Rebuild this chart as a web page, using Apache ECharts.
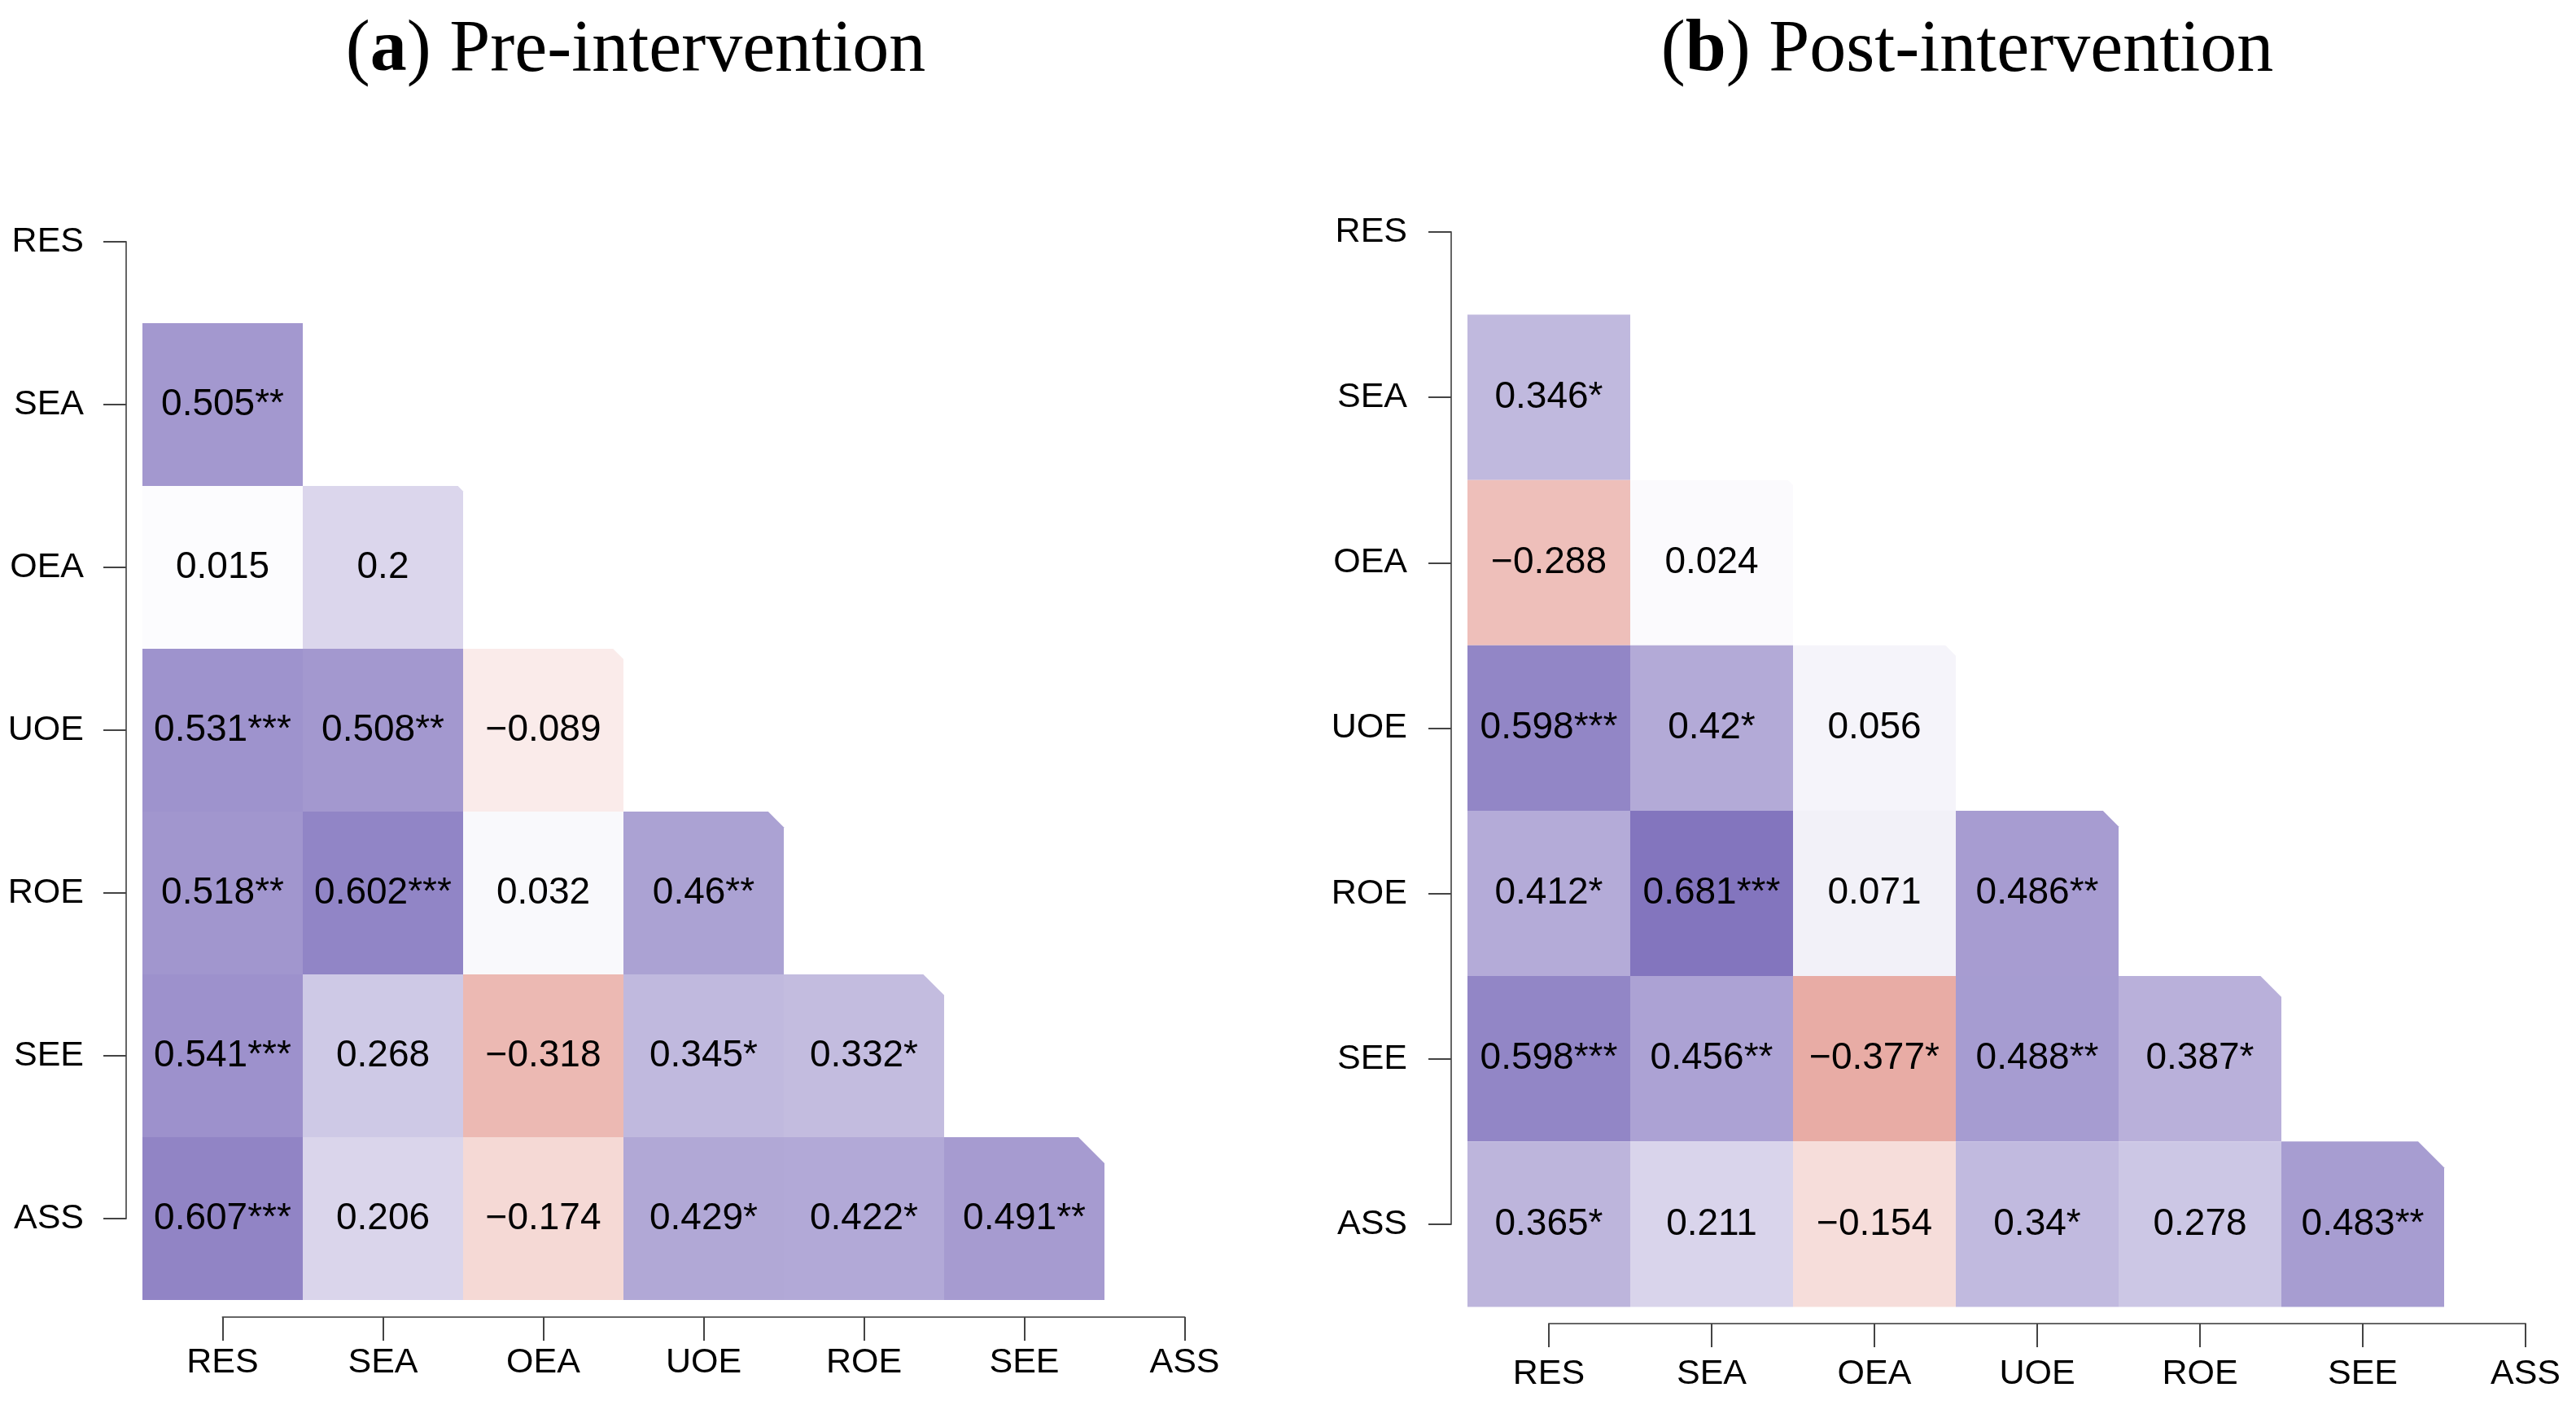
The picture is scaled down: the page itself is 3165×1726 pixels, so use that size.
<!DOCTYPE html>
<html>
<head>
<meta charset="utf-8">
<script src="https://cdn.jsdelivr.net/npm/echarts@6/dist/echarts.min.js"></script>
<style>
html,body{margin:0;padding:0;background:#fff;}
#chart{width:3165px;height:1726px;}
</style>
</head>
<body>
<div id="chart"></div>
<script>
// ---- data ----
const categories = ['RES', 'SEA', 'OEA', 'UOE', 'ROE', 'SEE', 'ASS'];
// columns that can hold a cell (the last variable never appears as a column value)
const cellColumns = ['RES', 'SEA', 'OEA', 'UOE', 'ROE', 'SEE'];

// lower-triangle rows (row i has i values: columns 0..i-1)
const preValues = [
  [],
  [0.505],
  [0.015, 0.2],
  [0.531, 0.508, -0.089],
  [0.518, 0.602, 0.032, 0.46],
  [0.541, 0.268, -0.318, 0.345, 0.332],
  [0.607, 0.206, -0.174, 0.429, 0.422, 0.491]
];
const preStars = [
  [],
  ['**'],
  ['', ''],
  ['***', '**', ''],
  ['**', '***', '', '**'],
  ['***', '', '', '*', '*'],
  ['***', '', '', '*', '*', '**']
];
const postValues = [
  [],
  [0.346],
  [-0.288, 0.024],
  [0.598, 0.42, 0.056],
  [0.412, 0.681, 0.071, 0.486],
  [0.598, 0.456, -0.377, 0.488, 0.387],
  [0.365, 0.211, -0.154, 0.34, 0.278, 0.483]
];
const postStars = [
  [],
  ['*'],
  ['', ''],
  ['***', '*', ''],
  ['*', '***', '', '**'],
  ['***', '**', '*', '**', '*'],
  ['*', '', '', '*', '', '**']
];
const titleA = ['a', ' Pre-intervention'];
const titleB = ['b', ' Post-intervention'];

// ---- build series data ----
function fmt(v) {
  return v < 0 ? '\u2212' + String(-v) : String(v);
}
function buildCells(values, stars) {
  const data = [], labels = [];
  values.forEach((row, yi) => {
    row.forEach((v, xi) => {
      data.push([xi, yi, v]);
      labels.push(fmt(v) + stars[yi][xi]);
    });
  });
  return { data, labels };
}
const pre = buildCells(preValues, preStars);
const post = buildCells(postValues, postStars);

const SANS = "'Liberation Sans', Arial, Helvetica, sans-serif";
const SERIF = "'Liberation Serif', 'Times New Roman', serif";
const AXIS_COLOR = '#666';

function makeRender(labels) {
  return function (params, api) {
    const xi = api.value(0), yi = api.value(1);
    const c = api.coord([xi, yi]);
    const s = api.size([1, 1]);
    const x0 = c[0] - s[0] / 2, x1 = c[0] + s[0] / 2;
    const y0 = c[1] - s[1] / 2, y1 = c[1] + s[1] / 2;
    let pts;
    const b = 6.4 * (yi - 1);
    if (xi === yi - 1 && b > 0) {
      pts = [[x0, y0], [x1 - b, y0], [x1, y0 + b], [x1, y1], [x0, y1]];
    } else {
      pts = [[x0, y0], [x1, y0], [x1, y1], [x0, y1]];
    }
    return {
      type: 'group',
      children: [
        { type: 'polygon', shape: { points: pts }, style: { fill: api.visual('color') } },
        {
          type: 'text',
          style: {
            text: labels[params.dataIndex], x: c[0], y: c[1],
            align: 'center', verticalAlign: 'middle',
            fontSize: 46, fontFamily: SANS, fill: '#000'
          }
        }
      ]
    };
  };
}

function heatX(gi) { return { gridIndex: gi, type: 'category', data: cellColumns, show: false }; }
function heatY(gi) { return { gridIndex: gi, type: 'category', data: categories, inverse: true, show: false }; }
function hidVal(gi) { return { gridIndex: gi, type: 'value', show: false }; }
function axisX(gi, margin) {
  return {
    gridIndex: gi, type: 'category', data: categories, boundaryGap: false, position: 'bottom',
    axisLine: { show: true, lineStyle: { color: AXIS_COLOR, width: 2 } },
    axisTick: { show: true, length: 29, lineStyle: { color: '#444', width: 2 } },
    axisLabel: { interval: 0, margin: margin, fontSize: 43, color: '#000', fontFamily: SANS },
    splitLine: { show: false }
  };
}
function axisY(gi, margin) {
  return {
    gridIndex: gi, type: 'category', data: categories, boundaryGap: false, inverse: true, position: 'left',
    axisLine: { show: true, lineStyle: { color: AXIS_COLOR, width: 2 } },
    axisTick: { show: true, length: 28, lineStyle: { color: '#444', width: 2 } },
    axisLabel: { interval: 0, margin: margin, fontSize: 43, color: '#000', fontFamily: SANS },
    splitLine: { show: false }
  };
}

const titleRich = {
  p: { fontSize: 90, fontFamily: SERIF, fill: '#000' },
  b: { fontSize: 90, fontFamily: SERIF, fontWeight: 'bold', fill: '#000' }
};

const option = {
  backgroundColor: '#fff',
  animation: false,
  grid: [
    { left: 175, top: 197, width: 1182, height: 1400 },
    { left: 273.5, top: 1000, width: 1182, height: 618 },
    { left: 155, top: 297, width: 200, height: 1200 },
    { left: 1803, top: 183.4, width: 1200, height: 1422 },
    { left: 1903, top: 1000, width: 1200, height: 626 },
    { left: 1783, top: 285, width: 200, height: 1219 }
  ],
  xAxis: [heatX(0), axisX(1, 35), hidVal(2), heatX(3), axisX(4, 41), hidVal(5)],
  yAxis: [heatY(0), hidVal(1), axisY(2, 52), heatY(3), hidVal(4), axisY(5, 54)],
  visualMap: {
    type: 'continuous', show: false, min: -1, max: 1, dimension: 2, seriesIndex: [0, 1],
    inRange: { color: ['#C3220F', '#FFFFFF', '#4934A0'] }
  },
  graphic: [
    {
      type: 'text', x: 781, y: 63,
      style: {
        text: '{p|(}{b|' + titleA[0] + '}{p|)' + titleA[1] + '}',
        align: 'center', verticalAlign: 'middle', rich: titleRich
      }
    },
    {
      type: 'text', x: 2417, y: 63,
      style: {
        text: '{p|(}{b|' + titleB[0] + '}{p|)' + titleB[1] + '}',
        align: 'center', verticalAlign: 'middle', rich: titleRich
      }
    }
  ],
  series: [
    {
      type: 'custom', name: 'pre', xAxisIndex: 0, yAxisIndex: 0,
      data: pre.data, renderItem: makeRender(pre.labels), clip: false
    },
    {
      type: 'custom', name: 'post', xAxisIndex: 3, yAxisIndex: 3,
      data: post.data, renderItem: makeRender(post.labels), clip: false
    }
  ]
};

const chart = echarts.init(document.getElementById('chart'), null, { renderer: 'canvas' });
chart.setOption(option);
</script>
</body>
</html>
